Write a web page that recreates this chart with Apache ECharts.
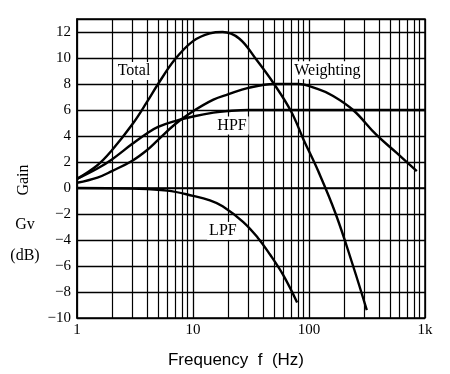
<!DOCTYPE html>
<html><head><meta charset="utf-8">
<script src="https://cdn.jsdelivr.net/npm/echarts@6/dist/echarts.min.js"></script>
<style>html,body{margin:0;padding:0;background:#fff}#c{width:450px;height:374px}</style>
</head><body><div id="c"></div>
<script>
// ---- data ----
const totalF = [1, 1.5, 2, 3, 4, 5, 7, 10, 14, 18, 25, 35, 50, 70, 90, 120, 170, 240, 315];
const totalG = [0.7, 1.75, 2.9, 4.9, 6.6, 8.0, 9.9, 11.3, 11.9, 12.0, 11.5, 9.9, 8.0, 5.9, 3.7, 1.3, -2.0, -6.0, -9.4];

const hpfF = [1, 1.5, 2, 3, 4, 5, 7, 10, 15, 20, 30, 100, 1000];
const hpfG = [0.7, 1.5, 2.2, 3.4, 4.2, 4.7, 5.15, 5.5, 5.8, 5.92, 6.0, 6.0, 6.0];

const wF = [1, 1.5, 2, 3, 4, 5, 7, 10, 15, 20, 30, 50, 80, 120, 160, 240, 380, 570, 850];
const wG = [0.4, 0.8, 1.3, 2.1, 2.9, 3.7, 4.9, 5.9, 6.8, 7.2, 7.7, 8.0, 8.0, 7.6, 7.1, 6.0, 4.1, 2.7, 1.3];

const lpfF = [1, 3, 6, 10, 14, 18, 27, 36, 46, 60, 79];
const lpfG = [0, -0.05, -0.2, -0.6, -0.95, -1.4, -2.6, -3.8, -5.1, -6.7, -8.8];

const xTickValues = [1, 10, 100, 1000];
const xTickLabels = ['1', '10', '100', '1k'];
const gridFreqs = [2,3,4,5,6,7,8,9, 20,30,40,50,60,70,80,90, 200,300,400,500,600,700,800,900];

const annotNames = ['Total', 'Weighting', 'HPF', 'LPF'];
const annotF = [3.1, 144, 21.7, 18.1];
const annotG = [9.0, 9.05, 4.8, -3.3];
// --------------------------------------

const serif = 'Liberation Serif';
const pairs = (f, g) => f.map((v, i) => [v, g[i]]);
const curve = (name, f, g) => ({
  name, type: 'line', data: pairs(f, g), smooth: 0.4, symbol: 'none', z: 5,
  lineStyle: { color: '#000', width: 2.4 }, silent: true, emphasis: { disabled: true }
});

const option = {
  animation: false,
  backgroundColor: '#fff',
  grid: { left: 77, right: 25, top: 19, bottom: 56, show: true, borderColor: '#000', borderWidth: 1.5, backgroundColor: '#fff' },
  xAxis: {
    type: 'log', logBase: 10, min: 1, max: 1000,
    axisLine: { show: true, lineStyle: { color: '#000', width: 1.5 } },
    axisTick: { show: false },
    axisLabel: {
      color: '#000', fontFamily: serif, fontSize: 15, margin: 5,
      formatter: v => { const i = xTickValues.indexOf(Math.round(v)); return i >= 0 ? xTickLabels[i] : ''; }
    },
    splitLine: { show: true, lineStyle: { color: '#000', width: 1.3 } }
  },
  yAxis: {
    type: 'value', min: -10, max: 13, interval: 2,
    axisLine: { show: true, lineStyle: { color: '#000', width: 1.5 } },
    axisTick: { show: false },
    axisLabel: {
      color: '#000', fontFamily: serif, fontSize: 15, margin: 6,
      formatter: v => v === 13 ? '' : (v < 0 ? '\u2212' + (-v) : String(v))
    },
    splitLine: { show: true, lineStyle: { color: '#000', width: 1.3 } }
  },
  graphic: [
    { type: 'text', x: 24, y: 180, rotation: Math.PI / 2, style: { text: 'Gain', fontFamily: serif, fontSize: 16, fill: '#000', textAlign: 'center', textVerticalAlign: 'middle' } },
    { type: 'text', x: 25, y: 225, style: { text: 'Gv', fontFamily: serif, fontSize: 16, fill: '#000', textAlign: 'center', textVerticalAlign: 'middle' } },
    { type: 'text', x: 25, y: 256, style: { text: '(dB)', fontFamily: serif, fontSize: 16, fill: '#000', textAlign: 'center', textVerticalAlign: 'middle' } },
    { type: 'text', x: 236, y: 360, style: { text: 'Frequency  f  (Hz)', fontFamily: 'Liberation Sans', fontSize: 17, fill: '#000', textAlign: 'center', textVerticalAlign: 'middle' } }
  ],
  series: [
    {
      type: 'line', data: [], z: 1, silent: true,
      markLine: {
        silent: true, symbol: 'none', label: { show: false },
        lineStyle: { color: '#000', width: 1.2, type: 'solid' },
        data: gridFreqs.map(f => ({ xAxis: f }))
      }
    },
    curve('Total', totalF, totalG),
    curve('HPF', hpfF, hpfG),
    curve('Weighting', wF, wG),
    curve('LPF', lpfF, lpfG),
    {
      type: 'scatter', z: 10, silent: true, symbolSize: 1, emphasis: { disabled: true },
      itemStyle: { color: 'rgba(0,0,0,0)' },
      data: annotNames.map((n, i) => [annotF[i], annotG[i], n]),
      label: {
        show: true, position: 'inside', formatter: p => p.data[2],
        fontFamily: serif, fontSize: 16, color: '#000', opacity: 1,
        textBorderWidth: 0, textBorderColor: 'transparent',
        backgroundColor: '#fff', padding: [1, 2]
      }
    }
  ]
};
echarts.init(document.getElementById('c'), null, { renderer: 'canvas' }).setOption(option);
</script>
</body></html>
